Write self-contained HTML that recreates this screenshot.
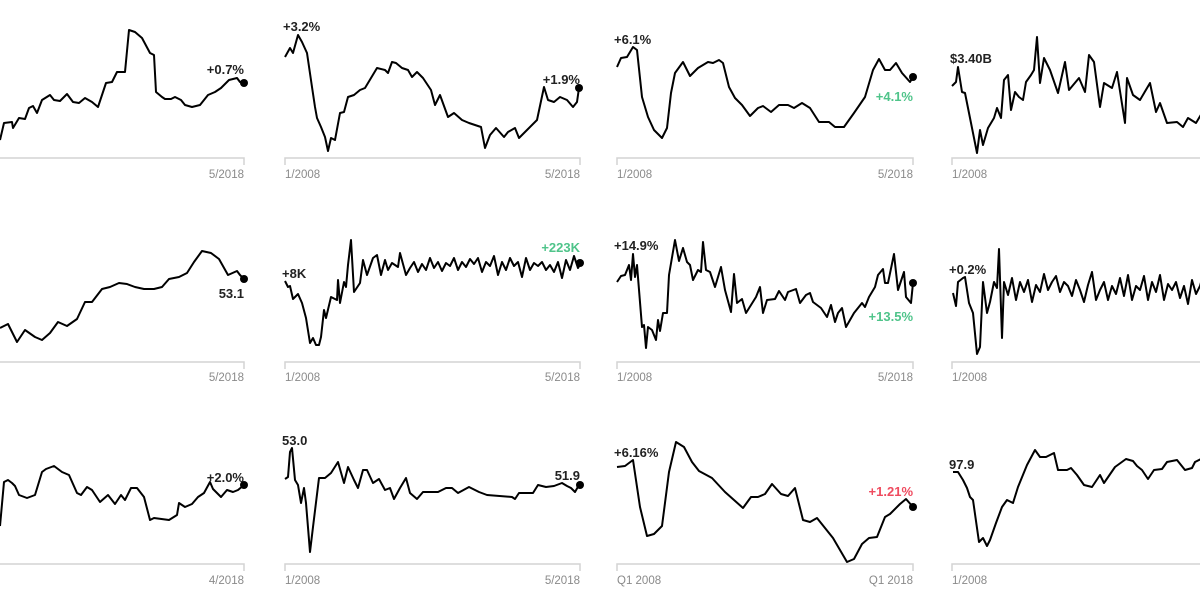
<!DOCTYPE html>
<html><head><meta charset="utf-8"><style>
html,body{margin:0;padding:0;background:#fff;width:1200px;height:600px;overflow:hidden}
svg{display:block}
.l{fill:none;stroke:#000;stroke-width:2;stroke-linejoin:round}
.ax{stroke:#d4d4d4;stroke-width:1.5;fill:none}
.t{font-family:"Liberation Sans",sans-serif;font-size:11.5px;fill:#8a8a8a}
.b{font-family:"Liberation Sans",sans-serif;font-size:13px;font-weight:bold;fill:#222}
.g{fill:#4fc48a}.r{fill:#ef4b5f}
</style></head><body>
<svg width="1200" height="600" viewBox="0 0 1200 600">
<!-- axes row1 -->
<g class="ax">
<path d="M0 158H244V165M285 165V158H580V165M617 165V158H913V165M952 165V158H1200"/>
<path d="M0 362H244V369M285 369V362H580V369M617 369V362H913V369M952 369V362H1200"/>
<path d="M0 564H244V571M285 571V564H580V571M617 571V564H913V571M952 571V564H1200"/>
</g>
<g class="t">
<text x="244" y="178" text-anchor="end">5/2018</text><text x="285" y="178">1/2008</text><text x="580" y="178" text-anchor="end">5/2018</text><text x="617" y="178">1/2008</text><text x="913" y="178" text-anchor="end">5/2018</text><text x="952" y="178">1/2008</text>
<text x="244" y="381" text-anchor="end">5/2018</text><text x="285" y="381">1/2008</text><text x="580" y="381" text-anchor="end">5/2018</text><text x="617" y="381">1/2008</text><text x="913" y="381" text-anchor="end">5/2018</text><text x="952" y="381">1/2008</text>
<text x="244" y="584" text-anchor="end">4/2018</text><text x="285" y="584">1/2008</text><text x="580" y="584" text-anchor="end">5/2018</text><text x="617" y="584">Q1 2008</text><text x="913" y="584" text-anchor="end">Q1 2018</text><text x="952" y="584">1/2008</text>
</g>
<!-- row1 -->
<polyline class="l" points="0,140 4,123 12,122 13,128 19,118 25,119 29,108 33,106 37,113 42,100 50,95 54,100 60,101 67,94 73,102 79,103 85,98 92,102 98,107 106,83 112,82 117,72 125,72 129,30 135,32 142,38 150,53 154,55 156,92 162,97 165,99 171,99 175,97 181,100 185,105 192,107 200,105 208,95 215,92 221,88 229,80 237,78 240,82 244,83"/>
<circle cx="244" cy="83" r="4"/>
<text class="b" x="244" y="74" text-anchor="end">+0.7%</text>
<polyline class="l" points="285,57 290,48 293,53 298,35 302,42 307,53 312,87 315,107 317,118 321,127 325,137 328,151 331,138 335,140 340,113 344,112 348,97 354,95 360,90 365,88 371,78 377,68 385,70 388,73 392,62 396,63 402,68 408,70 412,77 417,72 423,78 431,90 435,105 440,95 448,117 454,113 462,120 469,123 481,127 485,148 490,135 496,128 504,137 508,132 515,128 519,138 527,130 537,120 544,87 548,100 554,102 560,97 567,100 573,107 577,102 579,88"/>
<circle cx="579" cy="88" r="4"/>
<text class="b" x="283" y="31">+3.2%</text>
<text class="b" x="580" y="84" text-anchor="end">+1.9%</text>
<polyline class="l" points="617,67 621,58 627,57 633,47 637,50 642,97 648,117 654,130 662,138 667,128 671,93 675,73 683,62 690,76 698,68 708,62 713,63 719,60 723,63 729,87 735,98 742,105 750,116 758,108 763,106 771,112 779,105 788,105 794,108 802,103 810,108 819,122 829,122 835,127 844,127 854,113 865,97 873,70 879,59 885,70 890,70 896,63 902,73 910,82 913,77"/>
<circle cx="913" cy="77" r="4"/>
<text class="b" x="614" y="44">+6.1%</text>
<text class="b g" x="913" y="101" text-anchor="end">+4.1%</text>
<polyline class="l" points="952,86 956,82 958,67 962,92 965,93 971,123 977,153 980,130 983,145 988,128 994,118 997,108 1001,118 1004,80 1008,75 1011,110 1015,92 1019,97 1023,100 1026,82 1031,75 1034,70 1037,37 1040,83 1044,58 1050,70 1058,93 1065,62 1069,90 1079,78 1085,92 1089,55 1094,62 1100,107 1104,83 1112,88 1117,72 1125,123 1127,78 1133,95 1140,100 1150,83 1156,112 1160,103 1167,123 1177,122 1183,127 1188,118 1196,123 1202,113"/>
<text class="b" x="950" y="63">$3.40B</text>
<!-- row2 -->
<polyline class="l" points="0,328 8,324 17,342 25,330 35,337 42,340 50,333 58,322 67,326 77,319 85,302 92,302 102,289 110,287 119,283 127,284 135,287 144,289 154,289 162,287 169,279 179,277 187,273 194,262 202,251 211,253 219,259 228,275 237,271 240,275 244,279"/>
<circle cx="244" cy="279" r="4"/>
<text class="b" x="244" y="298" text-anchor="end">53.1</text>
<polyline class="l" points="285,281 288,287 290,286 293,299 298,294 302,303 306,318 310,343 313,338 316,345 319,345 321,337 324,310 326,318 331,297 337,300 338,280 340,303 344,282 346,287 348,265 351,240 354,292 360,283 363,260 367,275 373,258 377,255 381,275 385,260 388,270 392,263 398,267 400,253 406,275 410,268 414,262 418,272 422,264 426,270 430,258 434,268 438,262 442,271 446,263 450,266 454,258 458,270 462,262 466,267 470,259 474,264 478,258 482,272 486,262 490,266 494,256 498,275 502,262 506,270 510,258 514,266 518,262 522,277 526,258 530,270 534,263 538,266 542,262 546,270 550,265 554,272 558,262 562,278 566,260 570,270 574,256 578,268 581,263"/>
<circle cx="580" cy="263" r="4"/>
<text class="b" x="282" y="278">+8K</text>
<text class="b g" x="580" y="252" text-anchor="end">+223K</text>
<polyline class="l" points="617,282 621,276 625,275 629,265 631,280 633,254 635,277 637,265 642,327 644,325 646,348 648,327 652,330 656,340 658,320 660,331 663,313 667,313 669,275 675,240 679,261 683,248 687,262 690,265 693,280 698,270 701,272 703,242 706,270 710,272 715,287 721,267 725,290 731,312 734,274 737,303 742,299 746,313 756,297 760,287 763,313 767,300 775,299 779,291 785,300 788,292 796,289 800,303 806,295 810,293 813,302 821,308 827,317 831,305 835,322 838,313 842,308 846,327 854,313 862,303 865,307 869,297 875,287 878,275 883,269 885,283 888,283 894,254 898,290 904,272 906,297 911,303 913,283"/>
<circle cx="913" cy="283" r="4"/>
<text class="b" x="614" y="250">+14.9%</text>
<text class="b g" x="913" y="321" text-anchor="end">+13.5%</text>
<polyline class="l" points="953,293 956,306 958,282 963,278 965,277 969,303 973,313 977,354 980,347 983,282 987,313 990,302 994,282 997,288 999,249 1002,338 1004,282 1008,295 1012,278 1016,300 1020,282 1024,292 1028,280 1032,302 1036,285 1040,292 1044,274 1048,290 1052,282 1056,276 1060,292 1064,282 1068,286 1072,296 1076,280 1080,290 1084,302 1088,285 1092,272 1096,300 1100,290 1104,282 1108,300 1112,286 1116,294 1120,278 1124,296 1128,275 1132,300 1136,286 1140,290 1144,276 1148,300 1152,282 1156,292 1160,275 1164,300 1168,284 1172,290 1176,282 1180,298 1184,286 1188,304 1192,280 1196,294 1200,286 1203,275"/>
<text class="b" x="949" y="274">+0.2%</text>
<!-- row3 -->
<polyline class="l" points="0,526 4,482 8,480 12,483 15,486 19,495 27,498 35,495 42,472 46,469 54,466 62,472 69,475 77,493 81,495 87,487 92,490 100,502 108,495 115,504 121,495 125,500 131,488 137,488 144,497 150,520 154,518 169,520 177,515 179,503 185,507 192,504 198,497 204,493 210,482 213,489 221,497 227,490 233,492 238,490 244,485"/>
<circle cx="244" cy="485" r="4"/>
<text class="b" x="244" y="482" text-anchor="end">+2.0%</text>
<polyline class="l" points="285,479 288,477 290,452 292,448 295,480 298,485 301,503 304,488 306,503 310,552 313,527 319,478 325,478 331,473 338,462 344,483 348,467 354,480 358,488 363,470 367,470 373,483 379,479 385,490 390,488 394,499 400,488 406,478 410,493 417,499 423,492 438,492 446,488 452,488 458,493 469,487 479,492 487,495 512,497 515,499 519,493 533,493 538,485 546,487 554,486 562,483 567,486 571,488 575,492 579,485"/>
<circle cx="580" cy="485" r="4"/>
<text class="b" x="282" y="445">53.0</text>
<text class="b" x="580" y="480" text-anchor="end">51.9</text>
<polyline class="l" points="617,467 625,466 633,460 640,507 647,536 654,534 662,526 669,472 676,442 684,447 692,462 699,471 712,478 725,492 743,508 751,497 758,497 765,494 772,484 781,494 788,496 795,488 803,520 810,522 817,518 833,538 847,562 854,559 862,544 869,538 877,537 885,517 890,514 900,504 906,499 913,507"/>
<circle cx="913" cy="507" r="4"/>
<text class="b" x="614" y="457">+6.16%</text>
<text class="b r" x="913" y="496" text-anchor="end">+1.21%</text>
<polyline class="l" points="953,472 958,472 963,480 967,488 970,497 973,500 979,542 983,538 987,546 990,540 996,523 1002,507 1007,500 1013,503 1018,487 1027,465 1035,450 1040,457 1046,457 1054,453 1058,470 1067,470 1071,468 1077,475 1084,485 1092,487 1100,475 1104,483 1115,467 1126,459 1133,461 1137,466 1142,470 1148,479 1154,470 1162,469 1167,462 1177,460 1185,470 1192,468 1195,462 1203,458"/>
<text class="b" x="949" y="469">97.9</text>
</svg>
</body></html>
